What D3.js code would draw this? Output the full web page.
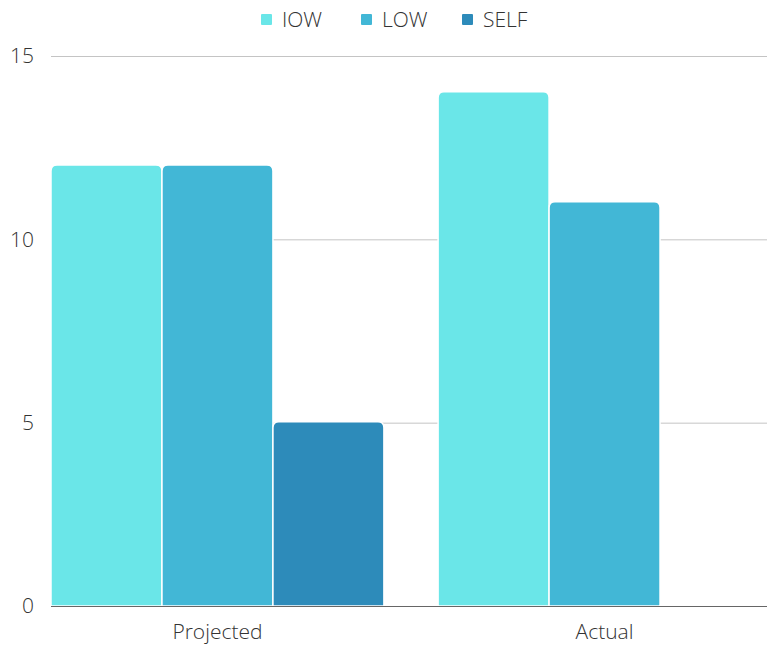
<!DOCTYPE html>
<html>
<head>
<meta charset="utf-8">
<script src="https://cdn.jsdelivr.net/npm/d3@7"></script>
<style>
  body { margin: 0; background: #fff; }
  svg { font-family: "Open Sans", sans-serif; }
</style>
</head>
<body>
<svg id="chart"></svg>
<script>
var categories = ['Projected', 'Actual'];
var seriesNames = ['IOW', 'LOW', 'SELF'];
var seriesColors = ['#6ae6e8', '#42b7d6', '#2d8bba'];
var iowValues = [12, 14];
var lowValues = [12, 11];
var selfValues = [5, 0];
var yTicks = [0, 5, 10, 15];

var width = 767, height = 645;
var margin = { top: 56, left: 51, bottom: 39 };

var svg = d3.select('#chart')
    .attr('width', width)
    .attr('height', height);

var table = categories.map(function (c, i) {
    return { category: c, values: [iowValues[i], lowValues[i], selfValues[i]] };
});

var x0 = d3.scaleBand()
    .domain(categories)
    .range([margin.left, 771])
    .paddingInner(0.14)
    .paddingOuter(0);

var x1 = d3.scaleBand()
    .domain(seriesNames)
    .range([0, x0.bandwidth()]);

var y = d3.scaleLinear()
    .domain([0, 15])
    .range([height - margin.bottom, margin.top]);

var color = d3.scaleOrdinal().domain(seriesNames).range(seriesColors);

// gridlines
svg.append('g')
    .selectAll('line')
    .data(yTicks.filter(function (d) { return d > 0; }))
    .enter()
    .append('line')
    .attr('x1', margin.left)
    .attr('x2', width)
    .attr('y1', function (d) { return y(d) + 0.5; })
    .attr('y2', function (d) { return y(d) + 0.5; })
    .style('stroke', '#c4c4c4')
    .style('stroke-width', 1);

// y labels
svg.append('g')
    .selectAll('text')
    .data(yTicks)
    .enter()
    .append('text')
    .attr('x', 34)
    .attr('y', function (d) { return y(d); })
    .attr('dy', '0.35em')
    .attr('text-anchor', 'end')
    .style('font-size', '21px')
    .style('font-weight', 300)
    .style('fill', '#333')
    .text(function (d) { return d; });

var topRounded = function (x, yTop, w, h, r) {
    if (h <= 0) return '';
    r = Math.min(r, h, w / 2);
    return 'M' + x + ',' + (yTop + h) +
        'V' + (yTop + r) +
        'Q' + x + ',' + yTop + ' ' + (x + r) + ',' + yTop +
        'H' + (x + w - r) +
        'Q' + (x + w) + ',' + yTop + ' ' + (x + w) + ',' + (yTop + r) +
        'V' + (yTop + h) + 'Z';
};

// bars
svg.append('g')
    .selectAll('g')
    .data(table)
    .enter()
    .append('g')
    .attr('transform', function (d) { return 'translate(' + x0(d.category) + ',0)'; })
    .selectAll('path')
    .data(function (d) {
        return d.values.map(function (v, i) { return { key: seriesNames[i], value: v }; });
    })
    .enter()
    .append('path')
    .attr('d', function (d) {
        return topRounded(x1(d.key), y(d.value) - 1, x1.bandwidth(), y(0) - y(d.value) + 1, 6);
    })
    .style('fill', function (d) { return color(d.key); })
    .style('stroke', '#fff')
    .style('stroke-width', 1.5);

// baseline
svg.append('line')
    .attr('x1', margin.left)
    .attr('x2', width)
    .attr('y1', y(0) + 0.5)
    .attr('y2', y(0) + 0.5)
    .style('stroke', '#666')
    .style('stroke-width', 1);

// x labels
svg.append('g')
    .selectAll('text')
    .data(categories)
    .enter()
    .append('text')
    .attr('x', function (d) { return x0(d) + x0.bandwidth() / 2; })
    .attr('y', 639)
    .attr('text-anchor', 'middle')
    .style('font-size', '21px')
    .style('font-weight', 300)
    .style('fill', '#333')
    .text(function (d) { return d; });

// legend
var legendX = [261, 361, 462];
var legend = svg.append('g')
    .selectAll('g')
    .data(seriesNames)
    .enter()
    .append('g')
    .attr('transform', function (d, i) { return 'translate(' + legendX[i] + ',0)'; });

legend.append('rect')
    .attr('x', 0)
    .attr('y', 14)
    .attr('width', 11)
    .attr('height', 11)
    .attr('rx', 1)
    .style('fill', function (d) { return color(d); });

legend.append('text')
    .attr('x', 21)
    .attr('y', 20)
    .attr('dy', '0.35em')
    .style('font-size', '21px')
    .style('font-weight', 300)
    .style('fill', '#333')
    .text(function (d) { return d; });
</script>
</body>
</html>
